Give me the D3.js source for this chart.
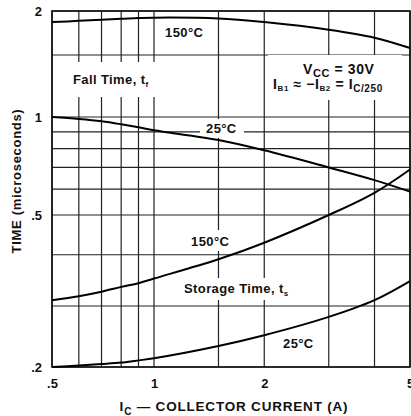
<!DOCTYPE html>
<html>
<head>
<meta charset="utf-8">
<script src="https://cdn.jsdelivr.net/npm/d3@7"></script>
<style>
  body { margin: 0; background: #fff; }
  svg { display: block; }
  text { font-family: "Liberation Sans", Arial, sans-serif; fill: #111; }
</style>
</head>
<body>
<svg id="chart" width="411" height="416"></svg>
<script>
// valores
const corriente = [0.5, 0.6, 0.7, 0.8, 0.9, 1, 1.5, 2, 3, 4, 5];
const caida150 = [1.86, 1.875, 1.89, 1.90, 1.91, 1.915, 1.905, 1.86, 1.77, 1.68, 1.57];
const caida25 = [1.0, 0.986, 0.97, 0.95, 0.93, 0.91, 0.85, 0.79, 0.70, 0.64, 0.59];
const almac150 = [0.31, 0.317, 0.325, 0.334, 0.341, 0.35, 0.39, 0.428, 0.50, 0.585, 0.69];
const almac25 = [0.20, 0.202, 0.204, 0.206, 0.209, 0.212, 0.23, 0.247, 0.279, 0.31, 0.345];

const xTicks = [0.5, 1, 2, 5];
const yTicks = [0.2, 0.5, 1, 2];
const xGrid = [0.5, 0.6, 0.7, 0.8, 0.9, 1, 1.5, 2, 3, 4, 5];
const yGrid = [0.2, 0.3, 0.4, 0.5, 0.6, 0.7, 0.8, 0.9, 1, 1.5, 2];

const series = [caida150, caida25, almac150, almac25];

let svg = d3.select("#chart");

// escalas log a trozos (el papel escaneado no es uniforme)
let x = d3.scaleLog().domain([0.5, 1, 5]).range([52, 154, 410]);
let y = d3.scaleLog().domain([2, 1, 0.5, 0.3, 0.2]).range([11, 117, 215, 306, 367]);

let fmt = d => String(d).replace(/^0\./, ".");

// rejilla
svg.append("g").selectAll("line")
    .data(xGrid)
    .enter()
    .append("line")
    .attr("x1", d => x(d)).attr("x2", d => x(d))
    .attr("y1", y(2)).attr("y2", y(0.2))
    .style("stroke", "#222")
    .style("stroke-width", 1.2);

svg.append("g").selectAll("line")
    .data(yGrid)
    .enter()
    .append("line")
    .attr("x1", x(0.5)).attr("x2", x(5))
    .attr("y1", d => y(d)).attr("y2", d => y(d))
    .style("stroke", "#222")
    .style("stroke-width", 1.2);

// marco
svg.append("rect")
    .attr("x", x(0.5)).attr("y", y(2))
    .attr("width", x(5) - x(0.5)).attr("height", y(0.2) - y(2))
    .style("fill", "none")
    .style("stroke", "#111")
    .style("stroke-width", 1.6);

// cajas blancas de las etiquetas (cortan la rejilla)
const cajas = [
    [66, 62, 104, 35],
    [200, 119, 44, 19],
    [268, 55, 134, 45],
    [184, 230, 54, 21],
    [178, 278, 130, 22],
    [276, 333, 44, 20]
];
svg.append("g").selectAll("rect")
    .data(cajas)
    .enter()
    .append("rect")
    .attr("x", d => d[0]).attr("y", d => d[1])
    .attr("width", d => d[2]).attr("height", d => d[3])
    .style("fill", "#fff");

// curvas
let linea = d3.line()
    .x((d, i) => x(corriente[i]))
    .y(d => y(d))
    .curve(d3.curveCatmullRom.alpha(0.5));

svg.append("g").selectAll("path")
    .data(series)
    .enter()
    .append("path")
    .attr("d", linea)
    .style("fill", "none")
    .style("stroke", "#000")
    .style("stroke-width", 2);

// ejes
let ejeX = svg.append("g")
    .attr("transform", `translate(0,${y(0.2) + 9})`)
    .call(d3.axisBottom(x).tickValues(xTicks).tickFormat(fmt).tickSize(0));
ejeX.select(".domain").remove();
ejeX.selectAll("text")
    .style("font-family", "'Liberation Sans', Arial, sans-serif")
    .style("font-size", "13px")
    .style("font-weight", "bold")
    .style("fill", "#111");

let ejeY = svg.append("g")
    .attr("transform", `translate(${x(0.5) - 7},0)`)
    .call(d3.axisLeft(y).tickValues(yTicks).tickFormat(fmt).tickSize(0));
ejeY.select(".domain").remove();
ejeY.selectAll("text")
    .style("font-family", "'Liberation Sans', Arial, sans-serif")
    .style("font-size", "13px")
    .style("font-weight", "bold")
    .style("fill", "#111");

// titulos
let tx = svg.append("text")
    .attr("x", 234).attr("y", 411)
    .attr("text-anchor", "middle")
    .style("font-size", "13.5px")
    .style("font-weight", "bold")
    .style("letter-spacing", "0.8px");
tx.append("tspan").text("I");
tx.append("tspan").attr("dy", 4).style("font-size", "10px").text("C");
tx.append("tspan").attr("dy", -4).text(" \u2014 COLLECTOR CURRENT (A)");

svg.append("text")
    .attr("transform", "translate(21,181) rotate(-90)")
    .attr("text-anchor", "middle")
    .style("font-size", "13px")
    .style("font-weight", "bold")
    .style("letter-spacing", "0.7px")
    .text("TIME (microseconds)");

// etiquetas dentro del grafico
function etiqueta(px, py, txt, sub) {
    let t = svg.append("text")
        .attr("x", px).attr("y", py)
        .style("font-size", "13px")
        .style("font-weight", "bold")
        .style("letter-spacing", "0.4px");
    t.append("tspan").text(txt);
    if (sub) t.append("tspan").attr("dy", 3).style("font-size", "8px").text(sub);
    return t;
}
etiqueta(165, 37, "150\u00B0C");
etiqueta(73, 84, "Fall Time, t", "f");
etiqueta(206, 133, "25\u00B0C");
etiqueta(191, 246, "150\u00B0C");
etiqueta(184, 293, "Storage Time, t", "s");
etiqueta(283, 348, "25\u00B0C");

// condiciones
let v = svg.append("text").attr("x", 303).attr("y", 74)
    .style("font-size", "14px").style("font-weight", "bold")
    .style("letter-spacing", "0.6px");
v.append("tspan").text("V");
v.append("tspan").attr("dy", 3).style("font-size", "11px").text("CC");
v.append("tspan").attr("dy", -3).text(" = 30V");

let ib = svg.append("text").attr("x", 273).attr("y", 89)
    .style("font-size", "14px").style("font-weight", "bold")
    .style("letter-spacing", "0.6px");
ib.append("tspan").text("I");
ib.append("tspan").attr("dy", 2).style("font-size", "8px").text("B1");
ib.append("tspan").attr("dy", -2).text(" \u2248 \u2212I");
ib.append("tspan").attr("dy", 2).style("font-size", "8px").text("B2");
ib.append("tspan").attr("dy", -2).text(" = I");
ib.append("tspan").attr("dy", 3).style("font-size", "10px").text("C/250");
</script>
</body>
</html>
